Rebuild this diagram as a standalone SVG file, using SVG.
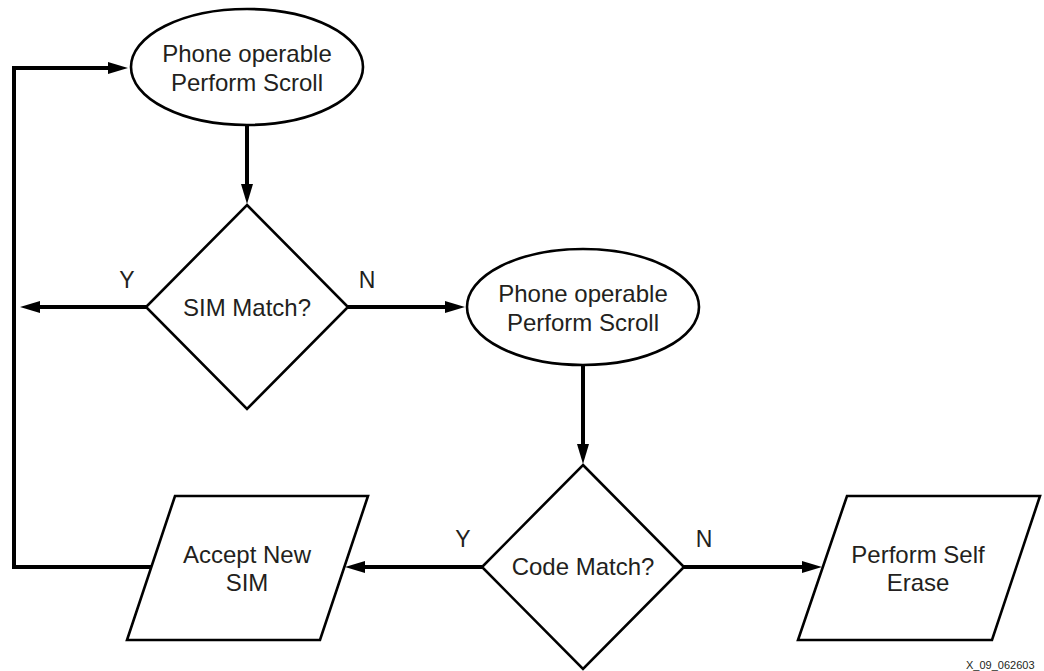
<svg xmlns="http://www.w3.org/2000/svg" width="1044" height="671" viewBox="0 0 1044 671">
  <style>
    .shape { fill: #ffffff; stroke: #000000; stroke-width: 2.6; stroke-linejoin: miter; }
    .conn { fill: none; stroke: #000000; stroke-width: 4; stroke-linejoin: miter; }
    .label { font-family: "Liberation Sans", Arial, sans-serif; font-size: 24px; fill: #231f20; text-anchor: middle; }
    .tag { font-family: "Liberation Sans", Arial, sans-serif; font-size: 23px; fill: #231f20; text-anchor: middle; }
    .ref { font-family: "Liberation Sans", Arial, sans-serif; font-size: 11px; fill: #231f20; }
  </style>
  <defs>
    <marker id="arrow" viewBox="0 0 20 12" markerWidth="20" markerHeight="12" refX="12" refY="6" orient="auto" markerUnits="userSpaceOnUse">
      <path d="M0,0 L20,6 L0,12 z" fill="#000000"/>
    </marker>
  </defs>

  <!-- connectors -->
  <g id="connectors">
    <path class="conn" d="M247,125 V196" marker-end="url(#arrow)"/>
    <path class="conn" d="M146,307 H28" marker-end="url(#arrow)"/>
    <path class="conn" d="M348,307 H457" marker-end="url(#arrow)"/>
    <path class="conn" d="M583,366 V456" marker-end="url(#arrow)"/>
    <path class="conn" d="M482,567 H353" marker-end="url(#arrow)"/>
    <path class="conn" d="M684,567 H814" marker-end="url(#arrow)"/>
    <path class="conn" d="M151,567 H14 V68 H120" marker-end="url(#arrow)"/>
    <text class="tag" x="127" y="288">Y</text>
    <text class="tag" x="367" y="288">N</text>
    <text class="tag" x="463" y="547">Y</text>
    <text class="tag" x="704" y="547">N</text>
  </g>

  <!-- nodes -->
  <g id="start">
    <ellipse class="shape" cx="247" cy="67" rx="116" ry="58"/>
    <text class="label" x="247" y="62">Phone operable</text>
    <text class="label" x="247" y="91">Perform Scroll</text>
  </g>

  <g id="sim-match">
    <polygon class="shape" points="247,205 348,307 247,409 146,307"/>
    <text class="label" x="247" y="316">SIM Match?</text>
  </g>

  <g id="scroll">
    <ellipse class="shape" cx="583" cy="307" rx="116" ry="58"/>
    <text class="label" x="583" y="302">Phone operable</text>
    <text class="label" x="583" y="331">Perform Scroll</text>
  </g>

  <g id="code-match">
    <polygon class="shape" points="583,465 684,567 583,669 482,567"/>
    <text class="label" x="583" y="575">Code Match?</text>
  </g>

  <g id="accept-sim">
    <polygon class="shape" points="175,496 368,496 320,640 127,640"/>
    <text class="label" x="247" y="563">Accept New</text>
    <text class="label" x="247" y="591">SIM</text>
  </g>

  <g id="self-erase">
    <polygon class="shape" points="847,496 1040,496 992,640 798,640"/>
    <text class="label" x="918" y="563">Perform Self</text>
    <text class="label" x="918" y="591">Erase</text>
  </g>

  <text class="ref" x="966" y="669">X_09_062603</text>
</svg>
